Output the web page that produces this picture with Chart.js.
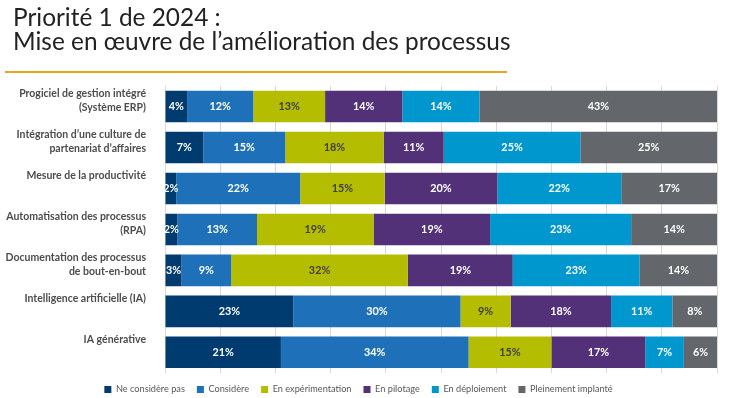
<!DOCTYPE html>
<html lang="fr">
<head>
<meta charset="utf-8">
<title>Priorité 1 de 2024</title>
<script src="https://cdn.jsdelivr.net/npm/chart.js@4.4.1/dist/chart.umd.min.js"></script>
<style>
  html, body { margin: 0; padding: 0; background: #fff; }
  .wrap { position: relative; width: 731px; height: 398px; overflow: hidden; }
  .title {
    position: absolute; left: 13px; top: 5px;
    font-family: Lato, "Open Sans", sans-serif; font-size: 24.4px; line-height: 24px;
    color: #222;
  }
  .rule { position: absolute; left: 5px; top: 71px; width: 502px; height: 2px; background: #E9A61C; }
  #chart { position: absolute; left: 0; top: 0; }
</style>
</head>
<body>
<div class="wrap">
  <canvas id="chart" width="731" height="398"></canvas>
  <div class="title">Priorité 1 de 2024 :<br>Mise en œuvre de l’amélioration des processus</div>
  <div class="rule"></div>
</div>
<script>
// Categories (y axis), two lines each
const categories = [
  ['Progiciel de gestion intégré', '(Système ERP)'],
  ["Intégration d’une culture de", 'partenariat d’affaires'],
  ['Mesure de la productivité', ''],
  ['Automatisation des processus', '(RPA)'],
  ['Documentation des processus', 'de bout-en-bout'],
  ['Intelligence artificielle (IA)', ''],
  ['IA générative', '']
];

// Series values (percent, as labelled)
const neConsiderePas = [4, 7, 2, 2, 3, 23, 21];
const considere = [12, 15, 22, 13, 9, 30, 34];
const enExperimentation = [13, 18, 15, 19, 32, 9, 15];
const enPilotage = [14, 11, 20, 19, 19, 18, 17];
const enDeploiement = [14, 25, 22, 23, 23, 11, 7];
const pleinementImplante = [43, 25, 17, 14, 14, 8, 6];

const seriesNames = ['Ne considère pas', 'Considère', 'En expérimentation', 'En pilotage', 'En déploiement', 'Pleinement implanté'];
const seriesValues = [neConsiderePas, considere, enExperimentation, enPilotage, enDeploiement, pleinementImplante];
const seriesColors = ['#003B6F', '#1E71B8', '#B5BD00', '#533179', '#0097CE', '#63666A'];
const labelColors = ['#fff', '#fff', '#3F3F3F', '#fff', '#fff', '#fff'];

// 100% stacked: each bar is scaled to its own total
const rowTotals = categories.map((c, i) => seriesValues.reduce((s, arr) => s + arr[i], 0));

const datasets = seriesNames.map((name, k) => ({
  label: name,
  raw: seriesValues[k],
  data: seriesValues[k].map((v, i) => v / rowTotals[i] * 100),
  backgroundColor: seriesColors[k],
  borderWidth: 0,
  barPercentage: 0.77,
  categoryPercentage: 1
}));

const FONT = 'Lato, "Open Sans", sans-serif';

// Value labels in the middle of each segment
const segmentLabels = {
  id: 'segmentLabels',
  afterDatasetsDraw(chart) {
    const ctx = chart.ctx;
    const area = chart.chartArea;
    ctx.save();
    ctx.beginPath();
    ctx.rect(area.left, area.top, area.right - area.left, area.bottom - area.top);
    ctx.clip();
    ctx.font = 'bold 10.8px ' + FONT;
    ctx.textAlign = 'center';
    ctx.textBaseline = 'middle';
    chart.data.datasets.forEach((ds, k) => {
      chart.getDatasetMeta(k).data.forEach((bar, i) => {
        const x = (bar.x + bar.base) / 2;
        ctx.fillStyle = labelColors[k];
        ctx.fillText(ds.raw[i] + '%', x, bar.y);
      });
    });
    ctx.restore();
  }
};

new Chart(document.getElementById('chart'), {
  type: 'bar',
  data: { labels: categories, datasets: datasets },
  plugins: [segmentLabels],
  options: {
    indexAxis: 'y',
    responsive: false,
    animation: false,
    layout: { padding: { top: 86, right: 14, bottom: -8, left: 0 } },
    scales: {
      x: {
        stacked: true,
        min: 0,
        max: 100,
        ticks: { display: false, stepSize: 10 },
        grid: { color: '#D9D9D9', drawTicks: false },
        border: { display: false }
      },
      y: {
        stacked: true,
        grid: { display: false },
        border: { display: false },
        afterFit(scale) { scale.width = 165; },
        ticks: {
          color: '#4D4D4D',
          font: { family: FONT, size: 10.5, weight: 'bold', lineHeight: 1.35 },
          padding: 11,
          labelOffset: -6,
          autoSkip: false
        }
      }
    },
    plugins: {
      legend: {
        position: 'bottom',
        labels: {
          boxWidth: 7,
          boxHeight: 7,
          padding: 12,
          color: '#595959',
          font: { family: FONT, size: 9.2 }
        }
      },
      tooltip: { enabled: false }
    }
  }
});
</script>
</body>
</html>
